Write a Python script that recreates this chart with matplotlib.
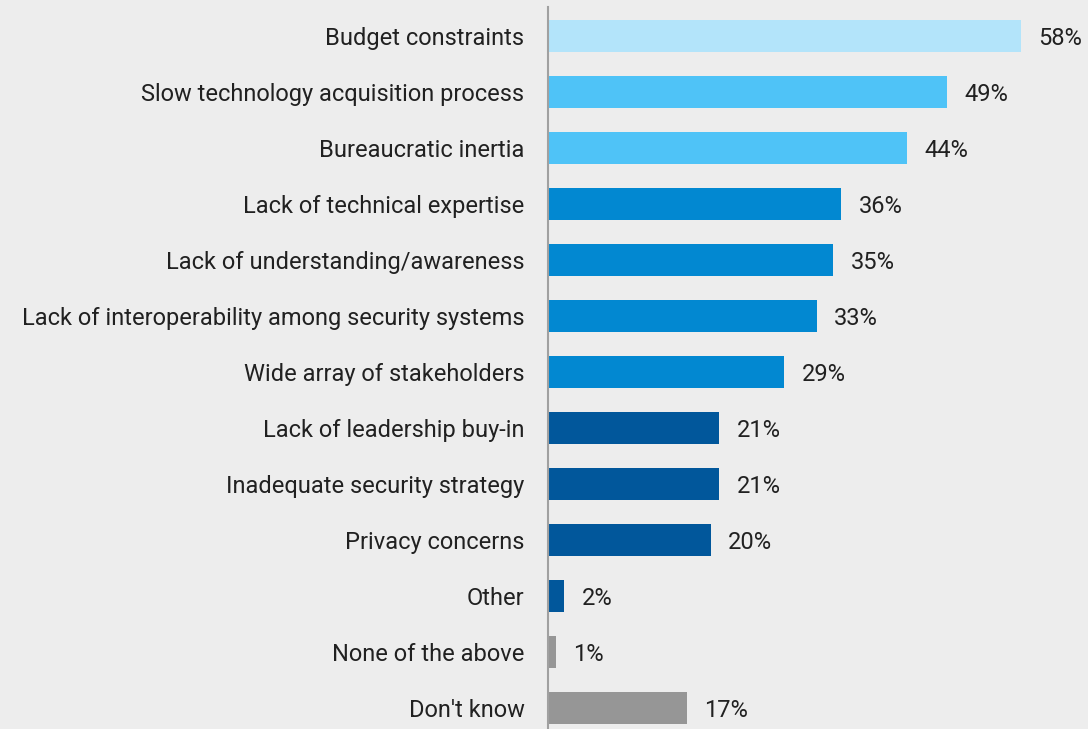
import matplotlib
matplotlib.use("Agg")
import matplotlib.pyplot as plt

plt.rcParams["font.family"] = ["Roboto", "DejaVu Sans"]

categories = [
    "Budget constraints",
    "Slow technology acquisition process",
    "Bureaucratic inertia",
    "Lack of technical expertise",
    "Lack of understanding/awareness",
    "Lack of interoperability among security systems",
    "Wide array of stakeholders",
    "Lack of leadership buy-in",
    "Inadequate security strategy",
    "Privacy concerns",
    "Other",
    "None of the above",
    "Don't know",
]
values = [58, 49, 44, 36, 35, 33, 29, 21, 21, 20, 2, 1, 17]
colors = [
    "#B3E4FA",
    "#4FC3F7", "#4FC3F7",
    "#0288D1", "#0288D1", "#0288D1", "#0288D1",
    "#01579B", "#01579B", "#01579B", "#01579B",
    "#969696", "#969696",
]

BG = "#EDEDED"
TEXT = "#212121"
FS = 17

fig = plt.figure(figsize=(10.88, 7.29), dpi=100, facecolor=BG)
ax = fig.add_axes([548 / 1088, 0, (1037 - 548) / 1088, 722 / 729])
ax.set_facecolor(BG)

y = list(range(len(categories)))
ax.barh(y, values, height=0.57, color=colors)

for yi, v in zip(y, values):
    ax.annotate(f"{v}%", xy=(v, yi), xytext=(12.5, 0), textcoords="offset points",
                va="center_baseline", ha="left", fontsize=FS, color=TEXT)

ax.set_xlim(0, 60)
ax.set_ylim(12.375, -0.52)
ax.set_yticks(y)
ax.set_yticklabels(categories, fontsize=FS, color=TEXT, va="center_baseline")
ax.tick_params(axis="y", length=0, pad=17)
ax.set_xticks([])

for side in ["top", "right", "bottom"]:
    ax.spines[side].set_visible(False)
ax.spines["left"].set_color("#A0A0A0")
ax.spines["left"].set_linewidth(1.5)

fig.savefig("out.png", dpi=100, facecolor=BG)
